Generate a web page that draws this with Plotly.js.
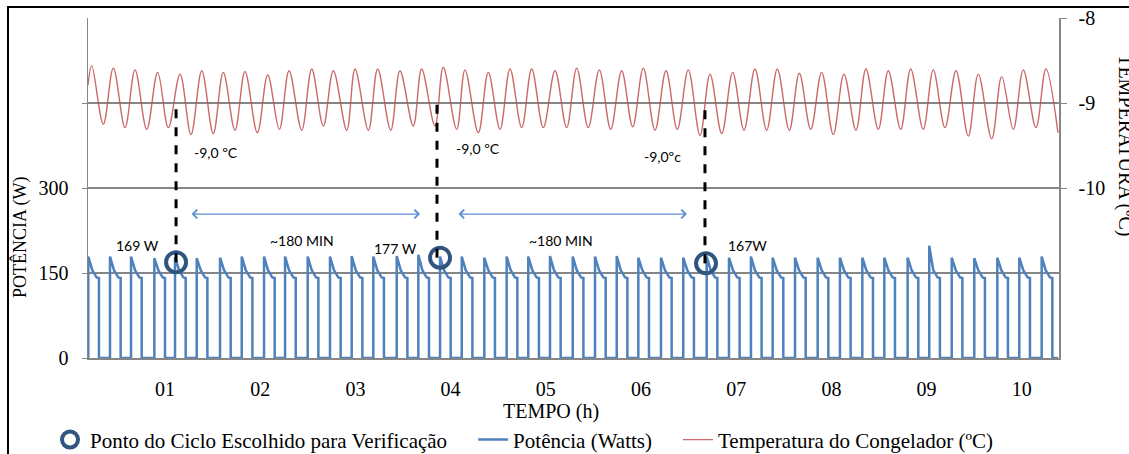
<!DOCTYPE html>
<html>
<head>
<meta charset="utf-8">
<script src="https://cdn.plot.ly/plotly-3.0.1.min.js"></script>
<style>html,body{margin:0;padding:0;background:#fff;}#chart{width:1129px;height:454px;}</style>
</head>
<body>
<div id="chart"></div>
<script>
// ---------- DATA ----------
const xTickHours = [1, 2, 3, 4, 5, 6, 7, 8, 9, 10];
const xTickLabels = ['01', '02', '03', '04', '05', '06', '07', '08', '09', '10'];

// compressor cycles: start time (h) and start peak (W)
const powerOnTime = [0.194, 0.422, 0.643, 0.888, 1.105, 1.333, 1.578, 1.806, 2.040, 2.261, 2.499, 2.733, 2.961, 3.188, 3.434,
  3.661, 3.889, 4.117, 4.354, 4.589, 4.816, 5.044, 5.283, 5.517, 5.745, 5.972, 6.210, 6.444, 6.690, 6.924,
  7.155, 7.383, 7.618, 7.856, 8.090, 8.325, 8.556, 8.801, 9.028, 9.264, 9.501, 9.743, 9.974, 10.209];
const powerPeak = [179, 179, 179, 176, 178, 176, 177, 179, 179, 179, 179, 179, 180, 179, 180,
  182, 179, 179, 177, 179, 179, 180, 179, 179, 180, 177, 177, 177, 179, 177,
  179, 177, 177, 177, 177, 177, 177, 177, 198, 177, 176, 177, 177, 179];
// shape of one "on" pulse: offset (h) after start, and power (W); null = the cycle peak
const pulseOffset = [0, 0, 0.042, 0.05, 0.088, 0.112, 0.112];
const pulsePower = [0, null, 155, 153, 142, 141, 0];
const endTime = 10.38;

// freezer temperature: peaks and troughs (h, ºC)
const tempTime = [0.191, 0.230, 0.352, 0.457, 0.580, 0.685, 0.808, 0.923, 1.035, 1.158, 1.273, 1.386, 1.507, 1.612, 1.735,
  1.840, 1.970, 2.079, 2.201, 2.303, 2.436, 2.541, 2.663, 2.768, 2.909, 2.996, 3.136, 3.234, 3.371, 3.468,
  3.608, 3.696, 3.836, 3.923, 4.064, 4.151, 4.291, 4.396, 4.519, 4.624, 4.747, 4.852, 4.974, 5.097, 5.219,
  5.325, 5.446, 5.562, 5.682, 5.797, 5.913, 6.024, 6.147, 6.263, 6.381, 6.497, 6.620, 6.725, 6.848, 6.963,
  7.082, 7.197, 7.320, 7.432, 7.558, 7.663, 7.783, 7.898, 8.020, 8.132, 8.258, 8.363, 8.493, 8.598, 8.728,
  8.833, 8.965, 9.070, 9.193, 9.309, 9.438, 9.543, 9.684, 9.789, 9.911, 10.016, 10.149, 10.254, 10.380];
const tempValue = [-8.79, -8.56, -9.25, -8.59, -9.29, -8.61, -9.31, -8.64, -9.29, -8.66, -9.37, -8.62, -9.36, -8.64, -9.32,
  -8.63, -9.35, -8.67, -9.31, -8.62, -9.32, -8.60, -9.27, -8.62, -9.32, -8.60, -9.32, -8.60, -9.32, -8.62,
  -9.27, -8.60, -9.27, -8.58, -9.31, -8.61, -9.35, -8.64, -9.31, -8.60, -9.29, -8.60, -9.29, -8.62, -9.29,
  -8.59, -9.29, -8.61, -9.31, -8.62, -9.28, -8.59, -9.32, -8.62, -9.31, -8.61, -9.38, -8.66, -9.36, -8.64,
  -9.32, -8.60, -9.32, -8.60, -9.32, -8.65, -9.31, -8.64, -9.37, -8.66, -9.32, -8.60, -9.31, -8.62, -9.31,
  -8.60, -9.31, -8.61, -9.29, -8.62, -9.39, -8.66, -9.42, -8.69, -9.31, -8.61, -9.29, -8.60, -9.35];

// chosen verification points
const pointTime = [1.116, 3.889, 6.683];
const pointPower = [169, 177, 167];
const dashTime = [1.116, 3.857, 6.672];
const dashTemp = -9.0;
const pointLabel = ['169 W', '177 W', '167W'];
const pointLabelTime = [0.706, 3.416, 7.124];
const pointLabelPower = [199, 194, 198];
const tempLabel = ['-9,0 ºC', '-9,0 ºC', '-9,0ºc'];
const tempLabelTime = [1.536, 4.288, 6.221];
const tempLabelPower = [362, 369, 355];
const spanLabel = ['~180 MIN', '~180 MIN'];
const spanLabelTime = [2.439, 5.160];
const spanLabelPower = [208, 208];
const spanStart = [1.263, 4.067];
const spanEnd = [3.679, 6.483];
const spanPower = [254, 254];

// series names (legend)
const nameMarker = 'Ponto do Ciclo Escolhido para Verificação';
const namePower = 'Potência (Watts)';
const nameTemp = 'Temperatura do Congelador (ºC)';

// axes
const xRange = [0.191, 10.391];
const powerRange = [0, 600];
const powerTicks = [0, 150, 300, 450];
const powerTickText = ['0', '150', '300', ''];
const tempRange = [-12, -8];
const tempTicks = [-10, -9, -8];
const tempTickText = ['-10', '-9', '-8'];

// ---------- BUILD ----------
const px = [], py = [];
powerOnTime.forEach((t, i) => {
  pulseOffset.forEach((d, k) => {
    px.push(+(t + d).toFixed(4));
    py.push(pulsePower[k] === null ? powerPeak[i] : pulsePower[k]);
  });
});
px.push(endTime); py.push(0);

const tempToPower = T => (T - tempRange[0]) / (tempRange[1] - tempRange[0]) * (powerRange[1] - powerRange[0]) + powerRange[0];

const serif = 'Liberation Serif, Times New Roman, serif';
const sans = 'Lato, Liberation Sans, sans-serif';
const gap = '\u00a0\u00a0\u00a0\u00a0';

const traces = [
  {
    x: px, y: py, type: 'scatter', mode: 'lines', name: namePower + gap,
    line: { color: '#4F81BD', width: 2.5 }, legendrank: 2, yaxis: 'y'
  },
  {
    x: tempTime, y: tempValue, type: 'scatter', mode: 'lines', name: nameTemp,
    line: { color: 'rgba(192,80,77,0.85)', width: 1.4, shape: 'spline', smoothing: 1 }, legendrank: 3, yaxis: 'y2'
  },
  {
    x: pointTime, y: pointPower, type: 'scatter', mode: 'markers', name: nameMarker + gap,
    marker: { symbol: 'circle-open', size: 20, color: '#30567F', line: { width: 4, color: '#30567F' } },
    legendrank: 1, yaxis: 'y'
  }
];

const shapes = [
  // outer frame
  { type: 'rect', xref: 'paper', yref: 'paper', x0: -0.0824, x1: 1.3, y0: -0.6, y1: 1.0324,
    line: { color: '#000', width: 2 }, layer: 'above' }
];
dashTime.forEach((t, i) => {
  shapes.push({ type: 'line', xref: 'x', yref: 'y', x0: t, x1: t, y0: pointPower[i], y1: tempToPower(dashTemp),
    line: { color: '#000', width: 3, dash: 'dash' }, layer: 'above' });
});

const annotations = [];
const addText = (text, x, y) => annotations.push({ text, x, y, xref: 'x', yref: 'y', showarrow: false,
  xanchor: 'center', yanchor: 'middle', font: { family: sans, size: 14, color: '#000' } });
pointLabel.forEach((t, i) => addText(t, pointLabelTime[i], pointLabelPower[i]));
tempLabel.forEach((t, i) => addText(t, tempLabelTime[i], tempLabelPower[i]));
spanLabel.forEach((t, i) => addText(t, spanLabelTime[i], spanLabelPower[i]));
spanStart.forEach((s, i) => annotations.push({
  x: spanEnd[i], y: spanPower[i], ax: s, ay: spanPower[i], xref: 'x', yref: 'y', axref: 'x', ayref: 'y',
  text: '', showarrow: true, arrowside: 'end+start', arrowhead: 4, arrowsize: 1.4, arrowwidth: 1.2,
  arrowcolor: '#5B8ED0', standoff: 0, startstandoff: 0
}));
// axis titles
const addTitle = (text, x, y, angle, size) => annotations.push({ text, x, y, xref: 'paper', yref: 'paper',
  xanchor: 'center', yanchor: 'middle', textangle: angle, showarrow: false,
  font: { family: serif, size: size, color: '#000' } });
addTitle('TEMPO (h)', 0.477, -0.156, 0, 20);
addTitle('POTÊNCIA (W)', -0.070, 0.353, -90, 18);
addTitle('TEMPERATURA (ºC)', 1.069, 0.626, 90, 20);

const layout = {
  width: 1129, height: 454,
  margin: { l: 88, r: 70, t: 18, b: 96 },
  paper_bgcolor: '#fff', plot_bgcolor: '#fff',
  showlegend: true,
  legend: { orientation: 'h', x: 0.0443, xref: 'container', y: 0.031, yref: 'container', xanchor: 'left', yanchor: 'middle',
    font: { family: serif, size: 21, color: '#000' }, traceorder: 'normal', bgcolor: 'rgba(0,0,0,0)' },
  xaxis: {
    range: xRange, tickvals: xTickHours, ticktext: xTickLabels, showgrid: false, zeroline: false,
    showline: true, linecolor: '#868686', linewidth: 1.5, ticks: '', ticklabelstandoff: 12,
    tickfont: { family: serif, size: 20, color: '#000' }
  },
  yaxis: {
    range: powerRange, tickvals: powerTicks, ticktext: powerTickText, showgrid: true, gridcolor: '#868686', gridwidth: 1.5,
    zeroline: false, showline: true, linecolor: '#868686', linewidth: 1.5, ticks: 'outside', ticklen: 5,
    tickcolor: '#868686', ticklabelstandoff: 9, tickfont: { family: serif, size: 20, color: '#000' }
  },
  yaxis2: {
    range: tempRange, tickvals: tempTicks, ticktext: tempTickText, overlaying: 'y', side: 'right', showgrid: false, zeroline: false,
    showline: true, linecolor: '#868686', linewidth: 1.5, ticks: 'outside', ticklen: 6, tickcolor: '#868686',
    ticklabelstandoff: 8, tickfont: { family: serif, size: 20, color: '#000' }
  },
  shapes: shapes,
  annotations: annotations
};

Plotly.newPlot('chart', traces, layout, { displayModeBar: false, staticPlot: true });
</script>
</body>
</html>
